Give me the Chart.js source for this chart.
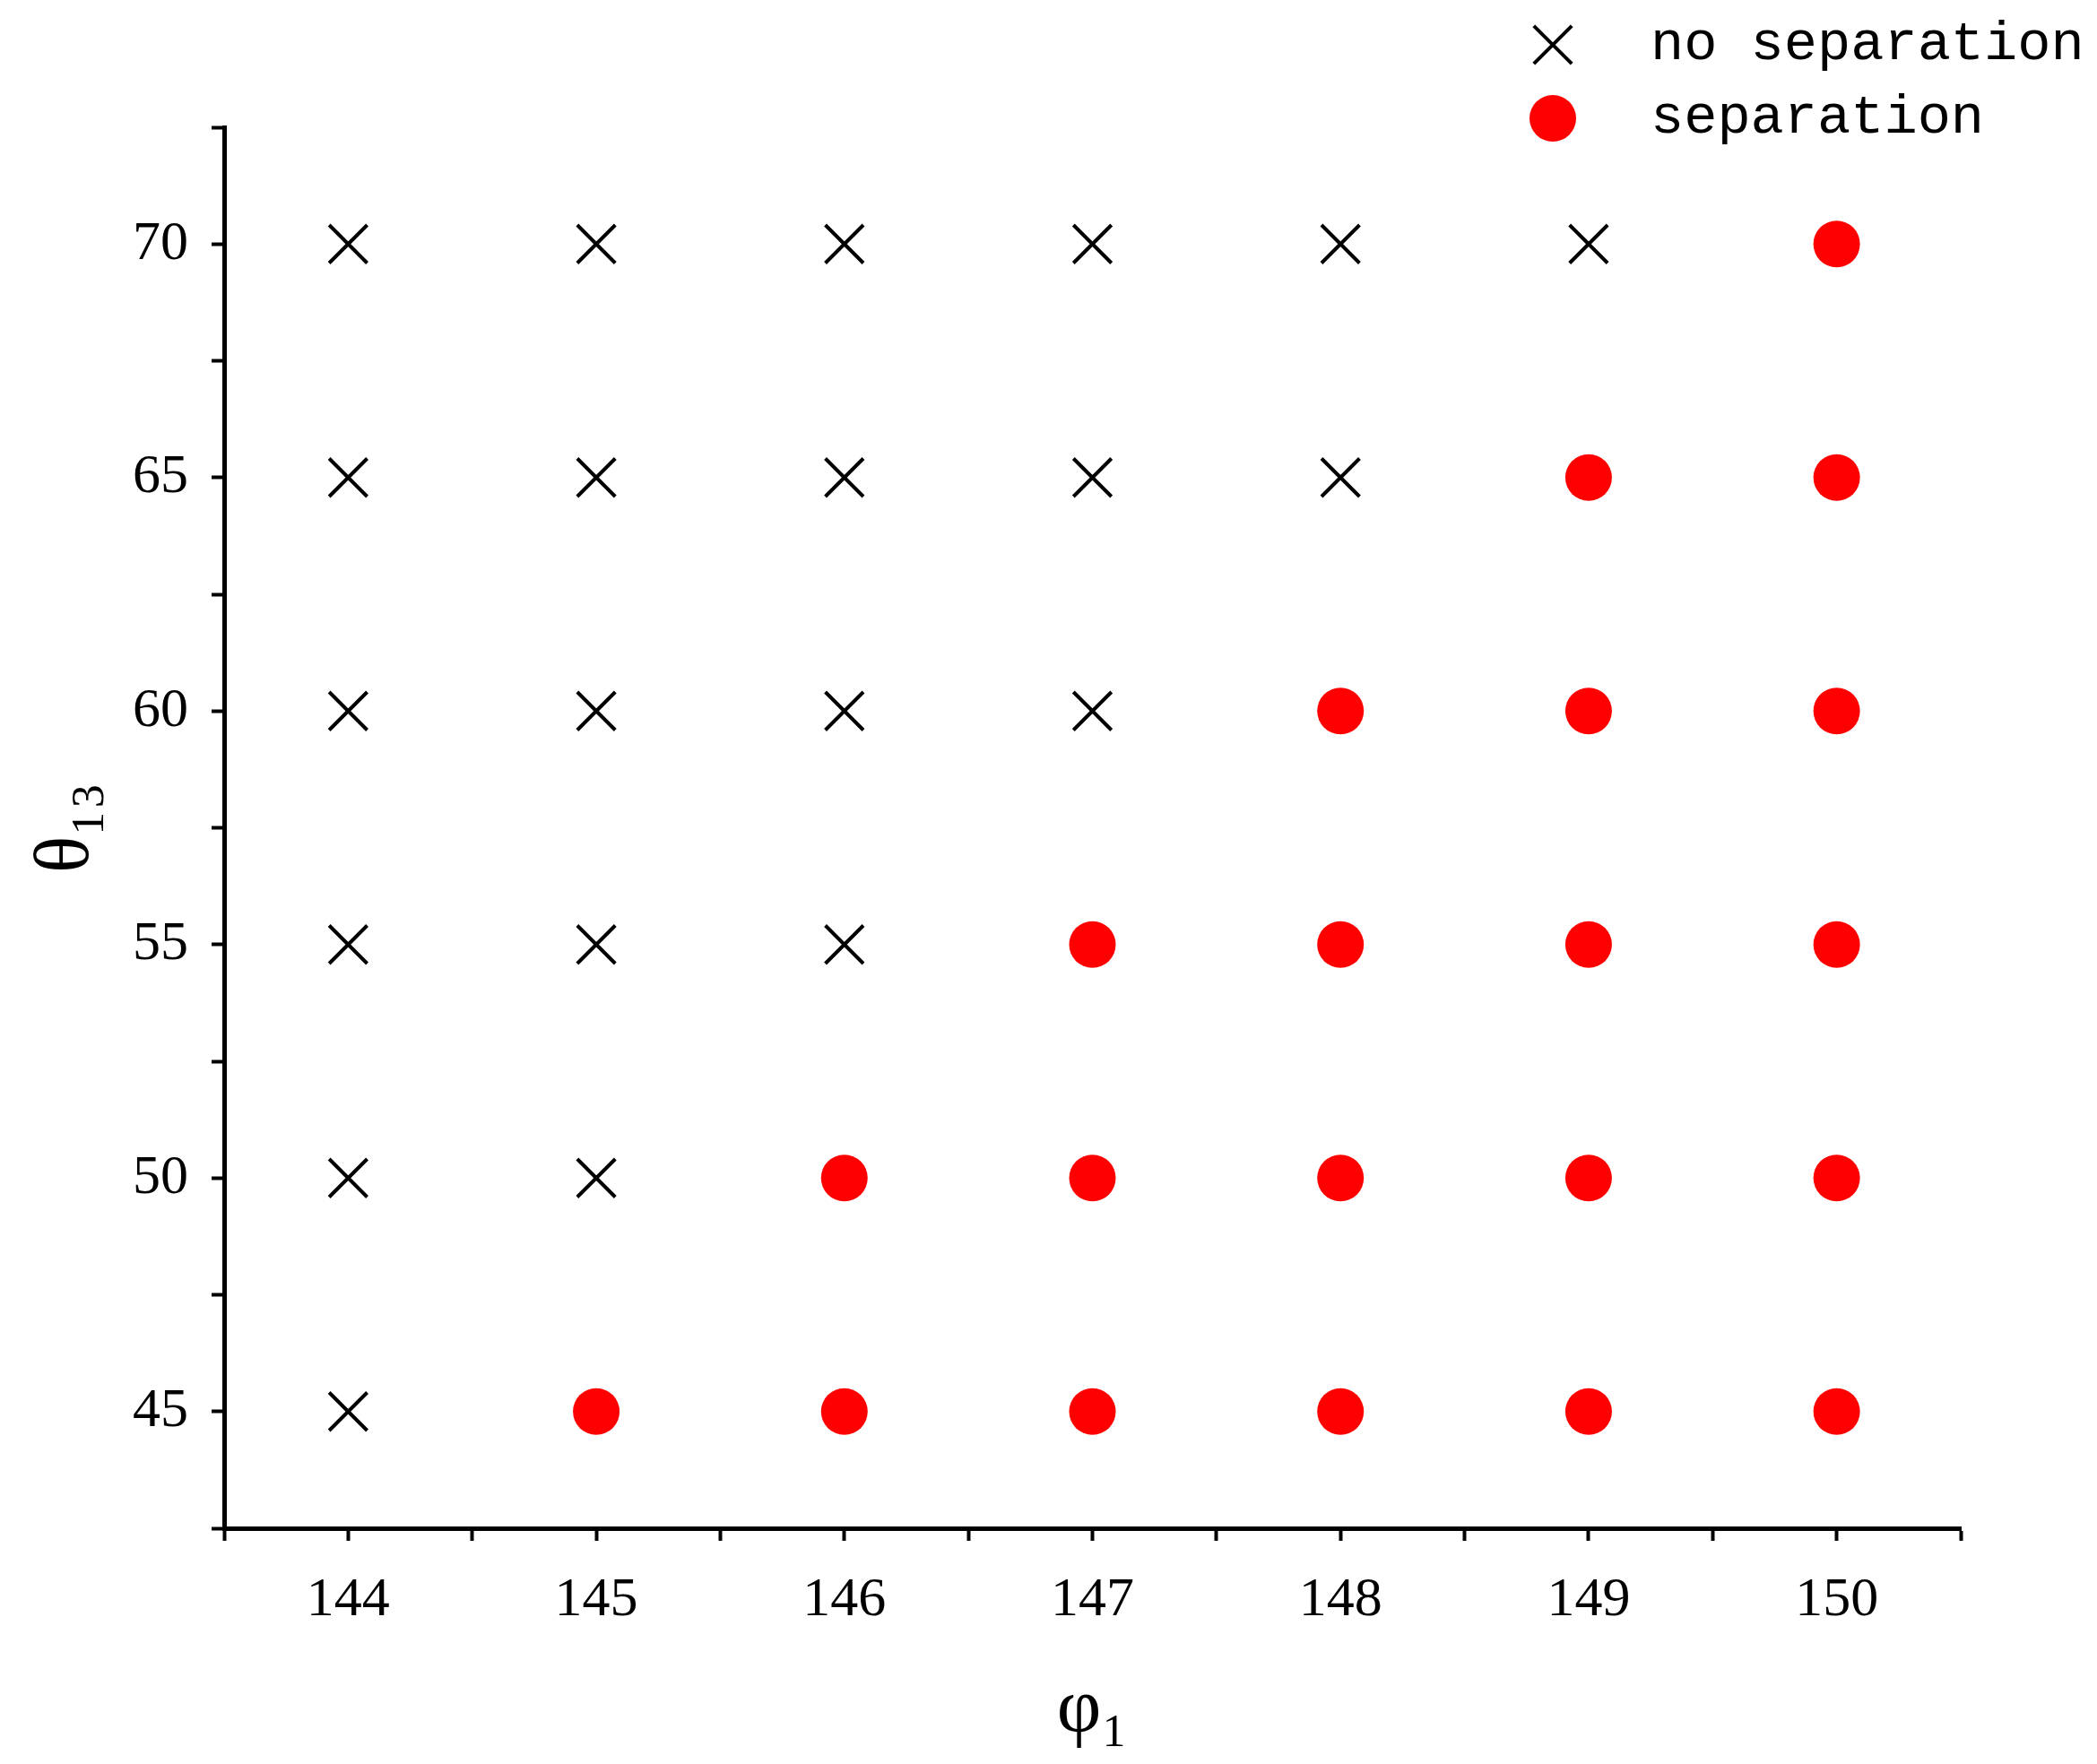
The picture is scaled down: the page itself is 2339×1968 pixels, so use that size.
<!DOCTYPE html>
<html><head><meta charset="utf-8">
<script src="https://cdn.jsdelivr.net/npm/chart.js@4/dist/chart.umd.min.js"></script>
<style>html,body{margin:0;padding:0;background:#fff}#w{width:2339px;height:1968px}</style>
</head><body><div id="w"><canvas id="c"></canvas></div>
<script>
const phiValues=[144,145,146,147,148,149,150];
const thetaValues=[45,50,55,60,65,70];
// first phi at which separation occurs for each theta
const separationStart=[145,146,147,148,149,150];
const seriesNames=['no separation','separation'];

const noSep=[],sep=[];
thetaValues.forEach((t,i)=>phiValues.forEach(p=>{(p>=separationStart[i]?sep:noSep).push({x:p,y:t});}));

const legendPlugin={id:'lg',afterDraw(ch){
  const c=ch.ctx;c.save();
  const rows=[{y:50,ds:ch.data.datasets[0]},{y:132,ds:ch.data.datasets[1]}];
  rows.forEach(r=>{
    c.fillStyle=r.ds.backgroundColor;c.strokeStyle=r.ds.borderColor;c.lineWidth=r.ds.borderWidth;
    c.beginPath();
    if(r.ds.pointStyle==='circle'){c.arc(1732,r.y,r.ds.pointRadius,0,Math.PI*2);c.fill();}
    else{const d=r.ds.pointRadius*0.707;c.moveTo(1732-d,r.y-d);c.lineTo(1732+d,r.y+d);c.moveTo(1732+d,r.y-d);c.lineTo(1732-d,r.y+d);c.stroke();}
    c.fillStyle='#000';c.font='62px "Liberation Mono", "DejaVu Sans Mono", monospace';c.textBaseline='middle';c.textAlign='left';
    c.fillText(r.ds.label,1841,r.y);
  });
  c.restore();
}};

new Chart(document.getElementById('c'),{
  type:'scatter',
  data:{datasets:[
    {label:seriesNames[0],data:noSep,pointStyle:'crossRot',pointRadius:30,pointHoverRadius:30,borderWidth:4,borderColor:'#000',backgroundColor:'#000'},
    {label:seriesNames[1],data:sep,pointStyle:'circle',pointRadius:26,pointHoverRadius:26,borderWidth:0,borderColor:'#ff0000',backgroundColor:'#ff0000'}
  ]},
  options:{
    responsive:true,maintainAspectRatio:false,animation:false,devicePixelRatio:1,
    layout:{padding:{top:142,right:152,left:0,bottom:0}},
    plugins:{legend:{display:false},tooltip:{enabled:false}},
    scales:{
      x:{type:'linear',min:143.5,max:150.5,
        afterFit(s){s.height=263;},
        border:{color:'#000',width:5},
        grid:{drawOnChartArea:false,tickLength:14,tickWidth:4,tickColor:'#000'},
        ticks:{stepSize:0.5,autoSkip:false,maxRotation:0,padding:30,color:'#000',font:{family:'"Liberation Serif", serif',size:62},
          callback:v=>Number.isInteger(v)?String(v):''},
        title:{display:true,text:'φ₁',color:'#000',font:{family:'"Liberation Serif", serif',size:86},padding:{top:0,bottom:8}}
      },
      y:{type:'linear',min:42.5,max:72.5,
        afterFit(s){s.width=250;},
        border:{color:'#000',width:5},
        grid:{drawOnChartArea:false,tickLength:14,tickWidth:4,tickColor:'#000'},
        ticks:{stepSize:2.5,autoSkip:false,padding:26,color:'#000',font:{family:'"Liberation Serif", serif',size:62},
          callback:v=>v%5===0?String(v):''},
        title:{display:true,text:'θ₁₃',color:'#000',font:{family:'"Liberation Serif", serif',size:86},padding:{top:24,bottom:0}}
      }
    }
  },
  plugins:[legendPlugin]
});
</script></body></html>
